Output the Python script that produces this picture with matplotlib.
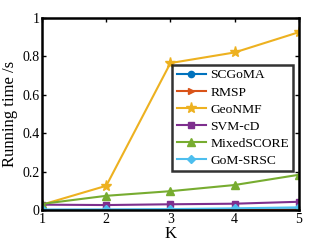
import numpy as np
import matplotlib.pyplot as plt

plt.rcParams['font.family'] = ['Liberation Serif', 'DejaVu Serif']

K = [1, 2, 3, 4, 5]
scgoma = [0.002, 0.003, 0.003, 0.004, 0.005]
rmsp = [0.001, 0.001, 0.001, 0.001, 0.001]
geonmf = [0.03, 0.128, 0.765, 0.82, 0.925]
svmcd = [0.03, 0.028, 0.032, 0.035, 0.045]
mixedscore = [0.034, 0.076, 0.1, 0.132, 0.185]
gomsrsc = [0.005, 0.005, 0.007, 0.011, 0.016]

fig = plt.figure(figsize=(3.29, 2.47), dpi=100)
ax = fig.add_axes([0.128, 0.148, 0.78, 0.78])

ax.plot(K, scgoma, color='#0072BD', marker='o', ms=4.5, lw=1.5, label='SCGoMA')
ax.plot(K, rmsp, color='#D95319', marker='>', ms=4.5, lw=1.5, label='RMSP')
ax.plot(K, geonmf, color='#EDB120', marker='*', ms=8, lw=1.5, label='GeoNMF')
ax.plot(K, svmcd, color='#7E2F8E', marker='s', ms=4.5, lw=1.5, label='SVM-cD')
ax.plot(K, mixedscore, color='#77AC30', marker='^', ms=5.5, lw=1.5, label='MixedSCORE')
ax.plot(K, gomsrsc, color='#4DBEEE', marker='D', ms=4, lw=1.5, label='GoM-SRSC')

ax.set_xlim(1, 5)
ax.set_ylim(0, 1)
ax.set_xticks(K)
ax.set_yticks([0, 0.2, 0.4, 0.6, 0.8, 1])
ax.set_yticklabels(['0', '0.2', '0.4', '0.6', '0.8', '1'])
ax.tick_params(direction='in', top=True, right=True, labelsize=10, length=3, width=1, pad=2)
for s in ax.spines.values():
    s.set_linewidth(1.8)
ax.set_xlabel('K', fontsize=12, labelpad=0)
ax.set_ylabel('Running time /s', fontsize=12, labelpad=3)

leg = ax.legend(loc='upper left', bbox_to_anchor=(0.508, 0.755), fontsize=9.7, frameon=True,
                fancybox=False, edgecolor='black', handlelength=2.2, handletextpad=0.3,
                borderpad=0.3, labelspacing=0.35, borderaxespad=0)
leg.get_frame().set_linewidth(1.8)

fig.savefig('out.png', dpi=100)
